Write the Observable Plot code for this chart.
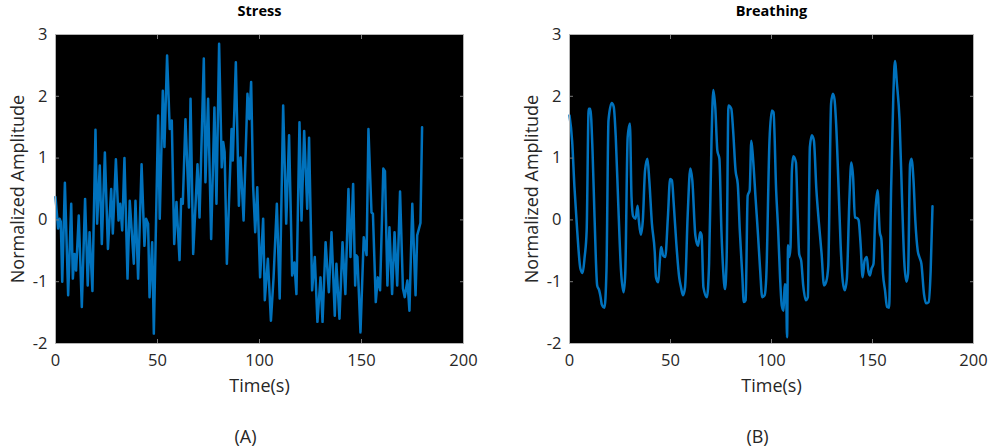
<!DOCTYPE html>
<html>
<head>
<meta charset="utf-8">
<script src="https://cdn.jsdelivr.net/npm/d3@7"></script>
<script src="https://cdn.jsdelivr.net/npm/@observablehq/plot@0.6"></script>
<style>
  html, body { margin: 0; padding: 0; background: #fff; }
  #wrap { position: relative; width: 992px; height: 448px; overflow: hidden; }
  .panel { position: absolute; top: 0; }
</style>
</head>
<body>
<div id="wrap"></div>
<script>
// ---- data ----
const titles = ["Stress", "Breathing"];
const captions = ["(A)", "(B)"];
const xLabel = "Time(s)";
const yLabel = "Normalized Amplitude";
const xTicks = [0, 50, 100, 150, 200];
const yTicks = [-2, -1, 0, 1, 2, 3];

const stressT = [0,1.3,2.0,2.6,3.3,4.6,6.2,7.7,8.5,9.3,10.1,11.4,12.9,14.5,15.8,16.7,18.1,19.6,20.4,21.7,22.7,24.2,25.7,27.3,28.1,29.6,30.9,31.7,32.7,33.8,35.3,36.4,38.4,39.2,40.5,42.2,43.6,44.4,45.4,46.1,47.4,48.2,50.3,51.1,52.6,53.4,54.7,56.0,57.0,58.2,59.3,60.8,61.6,62.4,63.7,65.4,66.2,67.5,69.6,70.6,72.7,73.5,74.8,76.3,77.9,78.9,80.2,81.5,82.2,82.9,84.0,86.3,86.9,88.4,89.9,90.7,92.2,94.1,95.0,95.9,96.9,97.9,98.9,100.3,101.8,102.6,104.1,105.6,106.9,108.5,109.9,111.6,113.1,114.5,116.0,117.1,118.1,119.6,120.6,121.9,123.4,124.3,125.8,127.1,128.4,129.9,130.9,132.4,134.0,135.3,136.9,137.7,139.2,140.7,142.1,143.6,144.6,145.9,146.9,147.4,148.0,149.5,151.1,152.5,153.4,154.9,155.6,157.0,158.0,159.1,160.7,161.5,162.7,163.7,165.0,166.2,167.5,168.9,170.3,171.2,172.5,173.5,174.9,176.5,177.3,178.9,179.7];
const stressV = [0.37,-0.14,0.02,-0.03,-1.0,0.6,-1.22,0.26,-0.95,-0.55,-0.82,0.07,-1.41,0.34,-1.06,-0.2,-1.15,1.46,-0.06,0.88,-0.39,1.09,-0.47,0.5,-0.22,0.98,-0.01,0.26,-0.17,1.0,-0.95,0.31,-0.71,0.31,-0.95,0.9,-0.42,0.02,-0.06,-1.25,-0.36,-1.84,1.69,0.02,2.09,1.18,2.66,1.47,1.61,-0.39,0.29,-0.65,0.34,0.26,1.63,0.2,1.96,-0.55,0.9,0.04,2.61,0.61,1.96,-0.31,1.82,0.26,2.85,0.85,1.26,1.1,-0.71,1.47,0.96,2.55,0.23,1.01,-0.01,2.04,1.63,2.23,0.53,-0.2,0.53,-0.93,0.02,-1.3,-0.63,-1.63,-0.93,0.26,-1.27,1.85,-0.06,1.37,-0.9,-0.69,-1.2,1.58,-0.01,1.44,0.18,1.33,-1.14,-0.6,-1.65,-0.93,-1.65,-0.36,-1.17,-0.2,-1.55,-0.71,-1.6,-0.36,-1.2,0.5,-0.6,0.58,-1.06,-0.57,-0.6,-1.82,-0.28,-0.57,1.47,0.12,0.1,-1.33,-0.93,-1.14,0.83,0.79,-1.06,-0.12,-1.2,-0.2,-1.06,0.46,-1.11,-1.25,-0.98,-1.47,0.26,-1.22,-0.25,-0.05,1.5];

const breathT = [0,1.3,2.45,3.8,5.4,6.5,7.5,8.5,9.5,10.3,11.4,12.4,13.7,14.7,15.4,16.0,17.3,18.3,19.3,20.9,21.9,22.9,24.2,25.5,26.8,27.6,28.8,29.9,30.7,31.5,32.7,33.7,34.3,35.3,36.3,37.4,38.6,39.5,40.8,42.2,42.8,43.8,45.4,46.4,47.4,48.7,49.8,50.7,51.6,52.9,54.3,55.2,56.2,57.2,58.5,59.8,60.8,62.3,63.6,64.7,65.4,66.3,68.0,69.1,70.3,71.2,72.2,73.2,74.2,75.2,76.1,77.0,77.8,78.7,80.1,81.0,82.2,83.3,84.3,85.5,86.3,87.2,88.2,89.2,90.0,90.8,92.2,93.3,94.4,95.4,96.6,97.4,99.0,100.2,101.0,102.3,103.3,104.2,105.1,106.0,106.5,107.2,107.7,108.2,108.8,109.4,110.1,110.8,112.1,112.9,113.7,114.7,115.7,117.0,118.0,119.0,120.0,121.0,122.2,123.5,124.8,126.0,127.1,128.1,129.5,130.4,131.2,132.0,133.2,134.2,135.3,136.3,137.3,138.6,139.5,140.4,141.3,142.3,143.1,144.1,145.1,146.1,147.2,147.9,148.7,149.5,150.5,151.3,152.5,153.6,154.4,155.2,156.2,157.2,158.2,159.2,160.3,161.1,162.1,163.4,164.7,165.7,166.8,167.6,168.6,169.3,170.3,171.2,172.4,173.2,174.2,175.5,176.5,177.8,178.8,179.7];
const breathV = [1.69,1.28,0.53,-0.17,-0.79,-0.86,-0.6,-0.17,1.8,1.8,1.12,0.04,-1.06,-1.14,-1.25,-1.37,-1.42,-0.82,1.61,1.89,1.83,1.34,0.2,-0.82,-1.17,-0.87,1.34,1.56,0.37,0.06,0.02,0.23,0.0,-0.24,-0.01,0.8,0.99,0.64,-0.06,-0.52,-0.93,-1.01,-0.44,-0.58,-0.6,0.04,0.66,0.64,0.26,-0.39,-0.93,-1.09,-1.22,-1.09,0.07,0.83,0.64,-0.25,-0.42,-0.2,-0.25,-1.09,-1.25,-0.71,1.28,2.1,1.8,1.12,0.99,-0.17,-0.82,-1.12,-0.6,1.85,1.8,1.45,0.8,0.58,-0.17,-0.87,-1.33,-1.3,0.39,0.48,1.28,1.02,0.31,-0.23,-0.82,-1.25,-1.22,-0.93,1.28,1.77,1.74,0.48,-0.17,-0.9,-1.39,-1.47,-1.04,-1.06,-1.9,-0.41,-0.6,-0.44,0.8,1.03,0.93,0.15,-0.55,-0.66,-1.06,-1.3,-1.25,1.18,1.37,1.28,0.5,-0.06,-0.55,-1.06,-1.0,-0.75,1.88,2.04,1.95,1.55,0.53,-0.39,-1.0,-1.14,-0.95,0.37,0.93,0.69,0.04,0.03,0.0,-0.39,-0.93,-0.66,-0.6,-0.82,-0.9,-0.79,-0.71,0.04,0.48,-0.2,-0.31,-0.87,-1.14,-1.41,-1.42,0.48,1.99,2.57,2.2,1.61,0.26,-0.66,-1.0,-0.87,0.9,0.99,0.64,-0.01,-0.5,-0.6,-0.71,-1.2,-1.35,-1.33,-0.82,0.22];

// ---- drawing ----
const FONT = "'Open Sans', 'Liberation Sans', sans-serif";
const TXT = "#262626";
const TICK = "#7a7a7a";
const fmt = d => String(d);

function panel(t, v, title, caption, marginLeft, marginRight, curve) {
  const rows = t.map((d, i) => ({t: d, v: v[i]}));
  const blank = () => "";
  return Plot.plot({
    width: 496,
    height: 448,
    marginTop: 34,
    marginBottom: 105,
    marginLeft,
    marginRight,
    style: {background: "transparent", fontFamily: FONT, fontSize: "16px", color: TXT, overflow: "visible"},
    x: {domain: [0, 200], ticks: xTicks},
    y: {domain: [-2, 3], ticks: yTicks},
    marks: [
      Plot.frame({fill: "black"}),
      Plot.line(rows, {x: "t", y: "v", stroke: "#0072BD", strokeWidth: 2.5, curve}),
      // inner tick marks on all four sides
      Plot.axisX(xTicks, {anchor: "bottom", tickSize: 4, dy: -4, tickFormat: blank, label: null, stroke: TICK}),
      Plot.axisX(xTicks, {anchor: "top", tickSize: 4, dy: 4, tickFormat: blank, label: null, stroke: TICK}),
      Plot.axisY(yTicks, {anchor: "left", tickSize: 4, dx: 4, tickFormat: blank, label: null, stroke: TICK}),
      Plot.axisY(yTicks, {anchor: "right", tickSize: 4, dx: -4, tickFormat: blank, label: null, stroke: TICK}),
      // tick labels
      Plot.axisX(xTicks, {anchor: "bottom", tickSize: 0, tickPadding: 11, tickFormat: fmt, label: null, fill: TXT, fontSize: 16.5}),
      Plot.axisY(yTicks, {anchor: "left", tickSize: 0, tickPadding: 8, tickFormat: fmt, label: null, fill: TXT, fontSize: 16.5}),
      Plot.frame({stroke: "#b4b4b4", strokeWidth: 1}),
      // titles & labels
      Plot.text([title], {frameAnchor: "top", lineAnchor: "middle", dy: -23, text: d => d, fontWeight: "bold", fontSize: 14.5, fill: "#000"}),
      Plot.text([xLabel], {frameAnchor: "bottom", lineAnchor: "middle", dy: 43, text: d => d, fontSize: 18, fill: TXT}),
      Plot.text([yLabel], {frameAnchor: "left", rotate: -90, textAnchor: "middle", lineAnchor: "middle", dx: -37, text: d => d, fontSize: 18, fill: TXT}),
      Plot.text([caption], {frameAnchor: "bottom", lineAnchor: "middle", dy: 94, dx: -14, text: d => d, fontSize: 18, fill: TXT})
    ]
  });
}

const wrap = document.getElementById("wrap");
const a = panel(stressT, stressV, titles[0], captions[0], 55, 33, "linear");
a.classList.add("panel"); a.style.left = "0px";
const b = panel(breathT, breathV, titles[1], captions[1], 73, 19, "monotone-x");
b.classList.add("panel"); b.style.left = "496px";
wrap.appendChild(a);
wrap.appendChild(b);
</script>
</body>
</html>
